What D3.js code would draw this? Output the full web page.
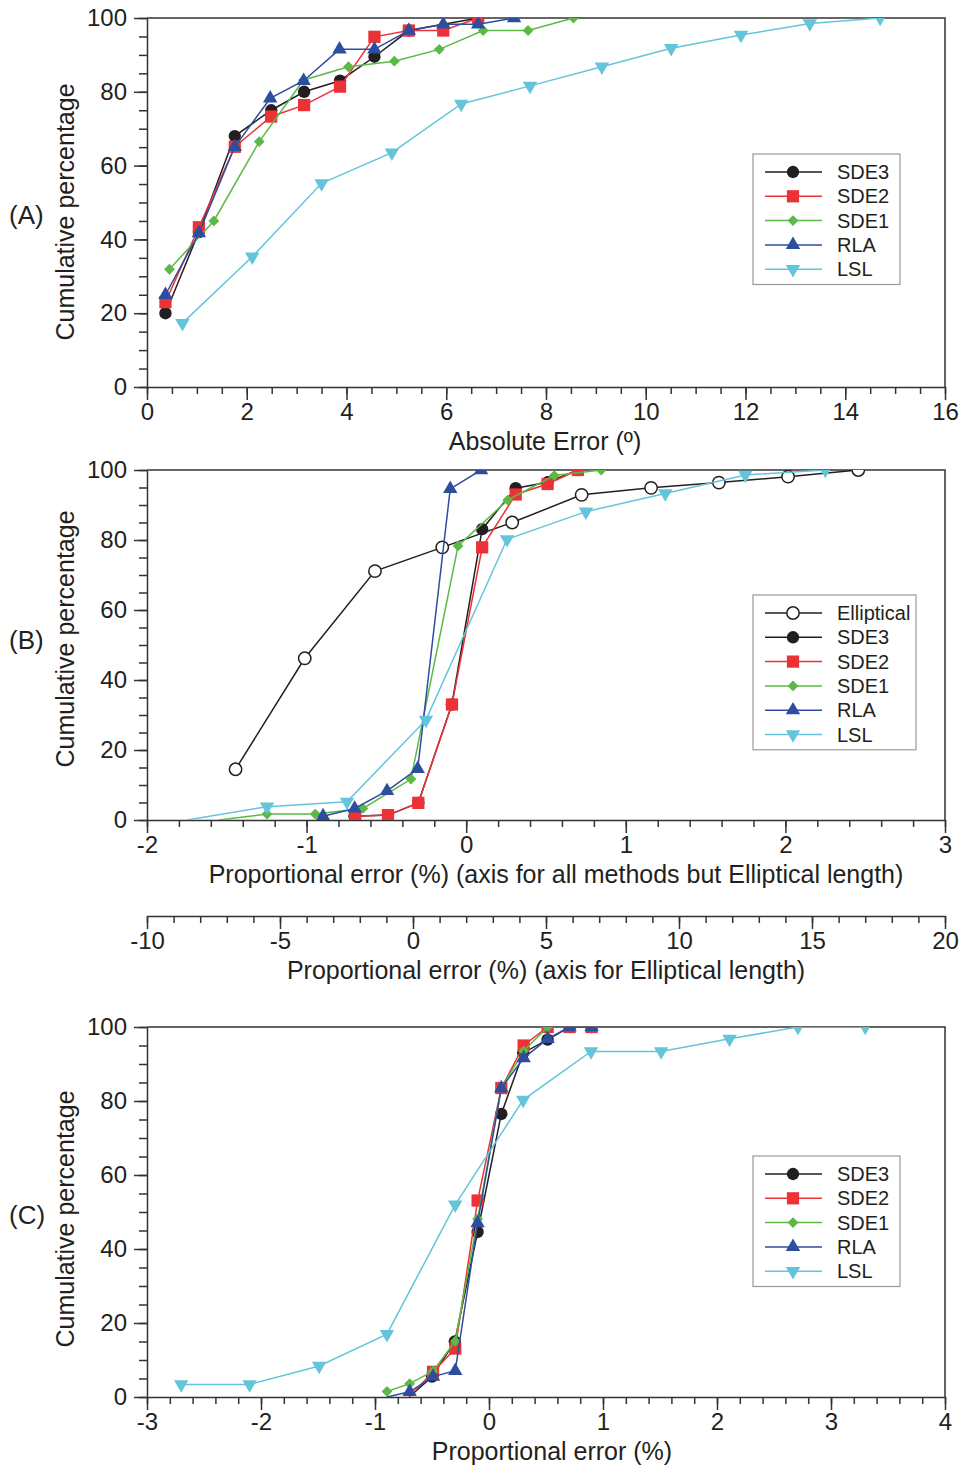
<!DOCTYPE html>
<html>
<head>
<meta charset="utf-8">
<script src="https://cdn.jsdelivr.net/npm/d3@7"></script>
<style>
  body { margin: 0; background: #fff; }
  text { font-family: "Liberation Sans", Arial, sans-serif; fill: #231f20; }
</style>
</head>
<body>
<svg id="chart" width="967" height="1468"></svg>
<script>
// ---- data (x, cumulative %) ----
const names = ["SDE3", "SDE2", "SDE1", "RLA", "LSL"];

// (A) absolute error
const aSDE3 = [[0.37,20],[1.04,42],[1.76,68],[2.49,75],[3.15,80],[3.87,83],[4.56,89.5],[5.25,96.6],[6.64,100]];
const aSDE2 = [[0.37,23],[1.04,43.3],[1.76,65.1],[2.49,73.3],[3.15,76.4],[3.87,81.4],[4.56,94.9],[5.25,96.6],[5.94,96.6],[6.64,100]];
const aSDE1 = [[0.45,31.9],[1.34,45],[2.25,66.5],[3.14,83.2],[4.04,86.8],[4.96,88.3],[5.86,91.5],[6.74,96.6],[7.64,96.6],[8.55,100]];
const aRLA  = [[0.37,25],[1.04,41.7],[1.76,65.1],[2.47,78.2],[3.14,83],[3.86,91.5],[4.56,91.5],[5.25,96.6],[5.94,98.3],[6.64,98.3],[7.36,100]];
const aLSL  = [[0.71,17.3],[2.11,35.3],[3.5,55.2],[4.91,63.5],[6.3,76.7],[7.68,81.6],[9.12,86.8],[10.51,91.8],[11.91,95.4],[13.29,98.5],[14.7,100]];

// (B) proportional error of length; Elliptical uses the second axis
const bEll  = [[-6.67,14.5],[-4.07,46.2],[-1.43,71.1],[1.1,77.9],[3.73,85],[6.34,92.9],[8.95,94.9],[11.5,96.4],[14.1,98.1],[16.74,100]];
const bSDE3 = [[-0.7,1.1],[-0.49,1.4],[-0.3,4.9],[-0.09,33],[0.1,83.1],[0.31,94.8],[0.51,96.5],[0.7,100]];
const bSDE2 = [[-0.695,1.1],[-0.49,1.4],[-0.3,4.9],[-0.089,33],[0.1,77.9],[0.31,93],[0.51,96],[0.7,100]];
const bSDE1 = [[-1.55,0],[-1.248,1.7],[-0.946,1.7],[-0.647,3.3],[-0.346,11.7],[-0.051,78.3],[0.26,91.4],[0.552,98.4],[0.846,100]];
const bRLA  = [[-0.897,1.1],[-0.699,3.3],[-0.496,8.3],[-0.304,14.6],[-0.1,94.6],[0.093,100]];
const bLSL  = [[-1.75,0],[-1.248,3.8],[-0.747,5.2],[-0.252,28.6],[0.256,80.2],[0.75,88.1],[1.247,93.3],[1.749,98.6],[2.25,100]];

// (C) proportional error
const cSDE3 = [[-0.7,0],[-0.5,5.5],[-0.3,15],[-0.1,44.6],[0.108,76.5],[0.3,93],[0.514,96.6],[0.707,100],[0.9,100]];
const cSDE2 = [[-0.7,0],[-0.491,6.8],[-0.296,13.1],[-0.1,53.1],[0.108,83.5],[0.304,95],[0.514,100],[0.707,100],[0.9,100]];
const cSDE1 = [[-0.895,1.5],[-0.696,3.6],[-0.491,7],[-0.296,15.1],[-0.1,48.1],[0.108,83.5],[0.304,93.5],[0.514,100]];
const cRLA  = [[-0.895,0],[-0.696,1.4],[-0.491,5.5],[-0.296,7.1],[-0.1,47],[0.108,83.5],[0.304,91.6],[0.514,96.8],[0.707,100],[0.9,100]];
const cLSL  = [[-2.7,3.4],[-2.1,3.4],[-1.49,8.4],[-0.895,17],[-0.296,52],[0.3,80.3],[0.895,93.4],[1.51,93.4],[2.11,96.8],[2.71,100],[3.3,100]];

// ---- styles ----
const colors = { Elliptical: "#231f20", SDE3: "#231f20", SDE2: "#ed3237", SDE1: "#5cb946", RLA: "#2d4e9f", LSL: "#64c5da" };
const shapes = {
  Elliptical: d3.symbol(d3.symbolCircle, 120),
  SDE3: d3.symbol(d3.symbolCircle, 120),
  SDE2: d3.symbol(d3.symbolSquare, 150),
  SDE1: d3.symbol(d3.symbolDiamond2, 75),
  RLA: d3.symbol(d3.symbolTriangle, 90),
  LSL: d3.symbol(d3.symbolTriangle, 90)
};

const svg = d3.select("#chart");
const X0 = 147, X1 = 945;
const axisColor = "#333";

function styleAxis(g) {
  g.attr("font-size", 24).attr("font-family", null);
  g.selectAll("line, path").attr("stroke", axisColor).attr("stroke-width", 1.5);
}

function marker(sel, name, x, y) {
  sel.append("path")
    .attr("d", shapes[name]())
    .attr("transform", `translate(${x},${y})` + (name === "LSL" ? " rotate(180)" : ""))
    .attr("fill", name === "Elliptical" ? "#fff" : colors[name])
    .attr("stroke", name === "Elliptical" ? colors[name] : "none")
    .attr("stroke-width", 1.5);
}

function panel(cfg) {
  const x = d3.scaleLinear().domain(cfg.xDomain).range([X0, X1]);
  const y = d3.scaleLinear().domain([0, 100]).range([cfg.bottom, cfg.top]);
  const g = svg.append("g");
  const fmt = d => String(d);

  // frame
  g.append("path")
    .attr("d", `M${X0},${cfg.top}H${X1}V${cfg.bottom}`)
    .attr("fill", "none").attr("stroke", axisColor).attr("stroke-width", 1.5);

  // x axis
  g.append("g").attr("transform", `translate(0,${cfg.bottom})`)
    .call(d3.axisBottom(x).tickValues(d3.range(cfg.xDomain[0], cfg.xDomain[1] + 1e-9, cfg.xMinor)).tickSize(7).tickFormat(""))
    .call(styleAxis).call(a => a.select(".domain").remove());
  g.append("g").attr("transform", `translate(0,${cfg.bottom})`)
    .call(d3.axisBottom(x).tickValues(d3.range(cfg.xDomain[0], cfg.xDomain[1] + 1e-9, cfg.xMajor)).tickSize(13).tickSizeOuter(0).tickPadding(3).tickFormat(fmt))
    .call(styleAxis);

  // y axis
  g.append("g").attr("transform", `translate(${X0},0)`)
    .call(d3.axisLeft(y).tickValues(d3.range(0, 101, 5)).tickSize(8).tickFormat(""))
    .call(styleAxis).call(a => a.select(".domain").remove());
  g.append("g").attr("transform", `translate(${X0},0)`)
    .call(d3.axisLeft(y).tickValues(d3.range(0, 101, 20)).tickSize(13).tickSizeOuter(0).tickPadding(7).tickFormat(fmt))
    .call(styleAxis);

  // titles
  g.append("text").attr("x", cfg.titleX).attr("y", cfg.bottom + 63)
    .attr("text-anchor", "middle").attr("font-size", 25).text(cfg.xTitle);
  g.append("text")
    .attr("transform", `translate(74,${cfg.yTitleMid}) rotate(-90)`)
    .attr("text-anchor", "middle").attr("font-size", 25).text("Cumulative percentage");
  g.append("text").attr("x", 9).attr("y", cfg.labelY)
    .attr("font-size", 26).text(cfg.label);

  // series, clipped to the frame
  const clipId = "clip" + cfg.label.replace(/\W/g, "");
  g.append("clipPath").attr("id", clipId).append("rect")
    .attr("x", X0).attr("y", cfg.top).attr("width", X1 - X0).attr("height", cfg.bottom - cfg.top);
  const plot = g.append("g").attr("clip-path", `url(#${clipId})`);

  cfg.series.forEach(s => {
    const xs = s.scale || x;
    const line = d3.line().x(d => xs(d[0])).y(d => y(d[1]));
    plot.append("path").datum(s.data)
      .attr("d", line).attr("fill", "none")
      .attr("stroke", colors[s.name]).attr("stroke-width", 1.5);
    s.data.filter(d => d[1] > 0).forEach(d => marker(plot, s.name, xs(d[0]), y(d[1])));
  });

  // legend
  const lg = g.append("g");
  const n = cfg.series.length;
  lg.append("rect")
    .attr("x", cfg.legend.x).attr("y", cfg.legend.y)
    .attr("width", cfg.legend.w).attr("height", n * 24.3 + 9)
    .attr("fill", "#fff").attr("stroke", "#999").attr("stroke-width", 1.2);
  cfg.series.forEach((s, i) => {
    const ly = cfg.legend.y + 18 + i * 24.3;
    lg.append("line").attr("x1", 765).attr("x2", 822).attr("y1", ly).attr("y2", ly)
      .attr("stroke", colors[s.name]).attr("stroke-width", 1.5);
    marker(lg, s.name, 793, ly);
    lg.append("text").attr("x", 837).attr("y", ly + 7).attr("font-size", 20).text(s.name);
  });
  return x;
}

// (A)
panel({
  label: "(A)", labelY: 224, yTitleMid: 212, top: 18, bottom: 387, xDomain: [0, 16], xMajor: 2, xMinor: 0.5,
  xTitle: "Absolute Error (º)", titleX: 545,
  legend: { x: 753, y: 154, w: 147 },
  series: [
    { name: "SDE3", data: aSDE3 }, { name: "SDE2", data: aSDE2 }, { name: "SDE1", data: aSDE1 },
    { name: "RLA", data: aRLA }, { name: "LSL", data: aLSL }
  ]
});

// second axis for elliptical length
const xEll = d3.scaleLinear().domain([-10, 20]).range([X0, X1]);

// (B)
panel({
  label: "(B)", labelY: 649, yTitleMid: 639, top: 470, bottom: 820, xDomain: [-2, 3], xMajor: 1, xMinor: 0.2,
  xTitle: "Proportional error (%) (axis for all methods but Elliptical length)", titleX: 556,
  legend: { x: 753, y: 595, w: 163 },
  series: [
    { name: "Elliptical", data: bEll, scale: xEll },
    { name: "SDE3", data: bSDE3 }, { name: "SDE2", data: bSDE2 }, { name: "SDE1", data: bSDE1 },
    { name: "RLA", data: bRLA }, { name: "LSL", data: bLSL }
  ]
});

const eg = svg.append("g");
eg.append("g").attr("transform", "translate(0,916)")
  .call(d3.axisBottom(xEll).tickValues(d3.range(-10, 21, 1)).tickSize(7).tickFormat(""))
  .call(styleAxis).call(a => a.select(".domain").remove());
eg.append("g").attr("transform", "translate(0,916)")
  .call(d3.axisBottom(xEll).tickValues(d3.range(-10, 21, 5)).tickSize(13).tickSizeOuter(0).tickPadding(3).tickFormat(d => String(d)))
  .call(styleAxis);
eg.append("text").attr("x", 546).attr("y", 979).attr("text-anchor", "middle").attr("font-size", 25)
  .text("Proportional error (%) (axis for Elliptical length)");

// (C)
panel({
  label: "(C)", labelY: 1224, yTitleMid: 1219, top: 1027, bottom: 1397, xDomain: [-3, 4], xMajor: 1, xMinor: 0.2,
  xTitle: "Proportional error (%)", titleX: 552,
  legend: { x: 753, y: 1156, w: 147 },
  series: [
    { name: "SDE3", data: cSDE3 }, { name: "SDE2", data: cSDE2 }, { name: "SDE1", data: cSDE1 },
    { name: "RLA", data: cRLA }, { name: "LSL", data: cLSL }
  ]
});
</script>
</body>
</html>
